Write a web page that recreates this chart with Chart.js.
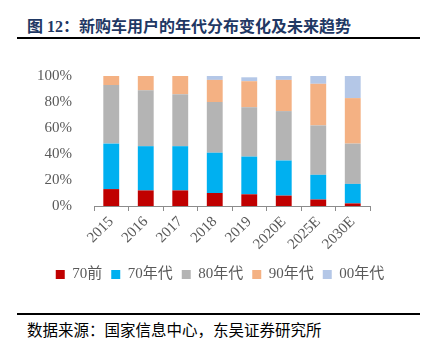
<!DOCTYPE html>
<html>
<head>
<meta charset="utf-8">
<script src="https://cdn.jsdelivr.net/npm/chart.js@4"></script>
<style>
  html, body { margin: 0; padding: 0; background: #fff; }
  body { width: 426px; height: 338px; position: relative; overflow: hidden; }
  .title {
    position: absolute; left: 27px; top: 13px;
    font: bold 16px "Liberation Serif", "Noto Sans CJK SC", serif;
    color: #1f3864; white-space: nowrap;
  }
  .rule { position: absolute; left: 17px; width: 403px; background: #000; }
  .source {
    position: absolute; left: 27px; top: 318px;
    font: 15.5px "Liberation Serif", "Noto Sans CJK SC", serif;
    color: #000; white-space: nowrap;
  }
  #wrap { position: absolute; left: 0; top: 53px; width: 426px; height: 239px; }
</style>
</head>
<body>
<div class="title">图 12：新购车用户的年代分布变化及未来趋势</div>
<div class="rule" style="top:37px;height:2px"></div>
<div id="wrap"><canvas id="chart"></canvas></div>
<div class="rule" style="top:313px;height:1.5px"></div>
<div class="source">数据来源：国家信息中心，东吴证券研究所</div>

<script>
// categories (years)
const years = ["2015", "2016", "2017", "2018", "2019", "2020E", "2025E", "2030E"];

// share of new-car buyers by generation, %
const pre70 = [13, 12, 12, 10, 9, 8, 5, 2];
const gen70 = [35, 34, 34, 31, 29, 27, 19, 15];
const gen80 = [45, 43, 40, 39, 38, 38, 38, 31];
const gen90 = [7, 11, 14, 17, 20, 24, 32, 35];
const gen00 = [0, 0, 0, 3, 3, 3, 6, 17];

const seriesNames = ["70前", "70年代", "80年代", "90年代", "00年代"];
const seriesColors = ["#c00000", "#00b0f0", "#b4b4b4", "#f4b183", "#b4c7e7"];

const FONT = '"Liberation Serif", "Noto Sans CJK SC", serif';
const TEXT = "#595959";

const datasets = [pre70, gen70, gen80, gen90, gen00].map((vals, i) => ({
  label: seriesNames[i],
  data: vals,
  backgroundColor: seriesColors[i],
  borderWidth: 0,
  barPercentage: 0.46,
  categoryPercentage: 1,
}));

new Chart(document.getElementById("chart"), {
  type: "bar",
  data: { labels: years, datasets },
  options: {
    responsive: true,
    maintainAspectRatio: false,
    animation: false,
    layout: { padding: { top: 3, right: 0, left: 14, bottom: 0 } },
    plugins: {
      tooltip: { enabled: false },
      legend: {
        position: "bottom",
        labels: {
          boxWidth: 9,
          boxHeight: 9,
          padding: 9,
          color: TEXT,
          font: { family: FONT, size: 15 },
        },
      },
    },
    scales: {
      x: {
        stacked: true,
        afterFit: (s) => { s.height = 52; },
        grid: {
          offset: true,
          drawOnChartArea: false,
          drawTicks: true,
          tickLength: 5,
          color: "#8c8c8c",
        },
        border: { display: true, color: "#8c8c8c" },
        ticks: {
          color: TEXT,
          minRotation: 45,
          maxRotation: 45,
          padding: 2,
          font: { family: FONT, size: 15 },
        },
      },
      y: {
        stacked: true,
        min: 0,
        max: 100,
        afterFit: (s) => { s.width = 80; },
        grid: { display: false },
        border: { display: false },
        ticks: {
          stepSize: 20,
          color: TEXT,
          padding: 14,
          font: { family: FONT, size: 15 },
          callback: (v) => v + "%",
        },
      },
      // empty right-hand spacer so the plot ends at x=370 while the legend centres on the page
      pad: {
        position: "right",
        afterFit: (s) => { s.width = 56; },
        grid: { display: false },
        border: { display: false },
        ticks: { display: false },
      },
    },
  },
});
</script>
</body>
</html>
